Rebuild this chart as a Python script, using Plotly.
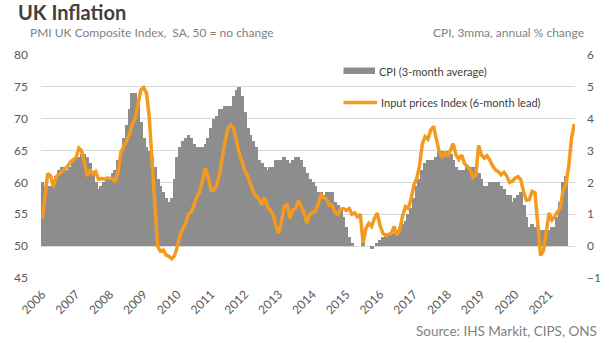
import pandas as pd
import plotly.graph_objects as go

# CPI, 3-month average, annual % change (Jan 2006 - Jul 2021)
cpi_3mma = [
    2.0, 1.9, 1.9, 1.9, 2.0, 2.2, 2.4, 2.5, 2.4, 2.4, 2.5, 2.7,   # 2006
    2.8, 2.8, 2.9, 2.9, 2.8, 2.6, 2.3, 2.0, 1.8, 1.9, 2.0, 2.1,   # 2007
    2.1, 2.3, 2.4, 2.7, 2.9, 3.4, 3.8, 4.3, 4.8, 4.8, 4.6, 3.9,   # 2008
    3.4, 3.1, 3.0, 2.8, 2.5, 2.1, 1.9, 1.7, 1.5, 1.4, 1.5, 2.1,   # 2009
    2.8, 3.1, 3.3, 3.4, 3.5, 3.4, 3.2, 3.1, 3.1, 3.1, 3.2, 3.4,   # 2010
    3.7, 4.0, 4.1, 4.3, 4.3, 4.4, 4.4, 4.4, 4.7, 4.9, 5.0, 4.7,   # 2011
    4.2, 3.7, 3.5, 3.3, 3.1, 2.7, 2.6, 2.5, 2.4, 2.5, 2.5, 2.7,   # 2012
    2.7, 2.7, 2.8, 2.7, 2.6, 2.7, 2.8, 2.8, 2.7, 2.5, 2.3, 2.1,   # 2013
    2.0, 1.9, 1.7, 1.7, 1.6, 1.7, 1.7, 1.7, 1.4, 1.3, 1.2, 0.9,   # 2014
    0.6, 0.3, 0.1, 0.0, 0.0, 0.0, 0.1, 0.0, 0.0, -0.1, 0.0, 0.1,  # 2015
    0.2, 0.3, 0.4, 0.4, 0.4, 0.4, 0.5, 0.6, 0.7, 0.8, 1.0, 1.2,   # 2016
    1.5, 1.9, 2.1, 2.4, 2.6, 2.7, 2.7, 2.7, 2.8, 3.0, 3.0, 3.0,   # 2017
    3.0, 2.9, 2.7, 2.5, 2.4, 2.4, 2.4, 2.5, 2.5, 2.5, 2.4, 2.3,   # 2018
    2.1, 1.9, 1.9, 2.0, 2.0, 2.0, 2.0, 1.9, 1.8, 1.6, 1.6, 1.4,   # 2019
    1.5, 1.6, 1.7, 1.3, 0.9, 0.6, 0.7, 0.6, 0.6, 0.5, 0.5, 0.5,   # 2020
    0.5, 0.6, 0.6, 0.9, 1.4, 2.0, 2.2,                            # 2021
]

# PMI UK Composite Input Prices Index, 6-month lead (Jan 2006 - Oct 2021 on the chart axis)
input_prices = [
    54.3, 58.0, 61.4, 61.0, 59.3, 60.9, 61.3, 61.6, 62.0, 62.5, 63.2, 63.5,   # 2006
    63.9, 65.4, 65.0, 63.2, 61.0, 62.0, 61.3, 61.7, 60.5, 60.6, 60.5, 60.7,   # 2007
    60.7, 60.6, 60.1, 61.8, 64.8, 65.6, 66.5, 67.6, 69.2, 70.0, 72.5, 74.5,   # 2008
    74.9, 74.0, 70.5, 63.5, 55.5, 50.0, 49.2, 49.4, 48.6, 48.4, 48.0, 48.5,   # 2009
    50.0, 51.8, 52.8, 53.6, 55.0, 55.4, 56.5, 57.8, 58.6, 60.5, 62.2, 60.8,   # 2010
    58.7, 58.8, 59.6, 61.3, 64.0, 66.5, 68.5, 69.0, 68.5, 66.5, 64.5, 63.3,   # 2011
    61.8, 60.9, 59.8, 58.5, 57.8, 57.4, 56.5, 57.6, 56.2, 55.5, 55.0, 53.1,   # 2012
    52.0, 54.0, 56.2, 56.6, 54.3, 55.7, 55.9, 57.2, 56.3, 55.2, 53.6, 55.0,   # 2013
    55.3, 55.5, 56.6, 58.0, 57.6, 57.4, 56.4, 56.4, 55.3, 55.0, 55.8, 55.9,   # 2014
    55.6, 55.9, 55.0, 55.2, 54.6, 55.0, 50.5, 52.8, 53.6, 53.1, 54.4, 55.2,   # 2015
    53.2, 52.0, 51.7, 51.8, 52.0, 53.1, 51.7, 52.6, 54.8, 56.2, 55.9, 57.4,   # 2016
    59.6, 60.7, 62.5, 66.0, 67.2, 66.8, 68.2, 68.8, 67.0, 64.8, 63.9, 64.8,   # 2017
    64.0, 65.0, 66.1, 64.3, 63.6, 64.3, 63.0, 62.5, 62.0, 60.8, 61.2, 65.8,   # 2018
    64.3, 63.8, 64.2, 63.5, 62.6, 62.0, 61.7, 61.2, 61.6, 61.0, 60.0, 60.2,   # 2019
    60.7, 60.9, 60.4, 58.5, 57.2, 57.3, 58.6, 58.4, 53.5, 48.5, 49.3, 52.5,   # 2020
    55.2, 54.1, 54.6, 55.4, 55.9, 58.8, 59.6, 62.5, 67.0, 69.2,               # 2021
]

year_labels = [str(y) for y in range(2006, 2022)]

cpi_dates = pd.date_range("2006-01-01", periods=len(cpi_3mma), freq="MS") + pd.Timedelta(days=14)
ip_dates = pd.date_range("2006-01-01", periods=len(input_prices), freq="MS") + pd.Timedelta(days=14)
tick_dates = [f"{y}-01-15" for y in year_labels]

GREY = "#8d8d8d"
ORANGE = "#f39a1f"
FONT = "Lato"

fig = go.Figure()
fig.add_trace(go.Bar(
    x=cpi_dates, y=cpi_3mma, yaxis="y", name="CPI (3-month average)",
    marker=dict(color=GREY, line=dict(width=0)),
    width=42 * 24 * 3600 * 1000, showlegend=False,
))
fig.add_trace(go.Scatter(
    x=ip_dates, y=input_prices, yaxis="y2", mode="lines",
    name="Input prices Index (6-month lead)",
    line=dict(color=ORANGE, width=3.5), showlegend=False,
))

L, R, T, B = 41, 30, 55, 65
W, H = 613, 343
pw, ph = W - L - R, H - T - B


def px(xp):
    return (xp - L) / pw


def py(yp):
    return (H - B - yp) / ph


fig.update_layout(
    width=W, height=H, autosize=False,
    margin=dict(l=L, r=R, t=T, b=B),
    paper_bgcolor="white", plot_bgcolor="white",
    bargap=0,
    font=dict(family=FONT, color="#595959"),
    xaxis=dict(
        type="date", range=["2006-01-01", "2021-10-22"],
        tickvals=tick_dates, ticktext=year_labels, tickangle=-45,
        showgrid=False, zeroline=False, showline=False, ticks="",
        tickfont=dict(size=12, color="#595959"), ticklabelstandoff=6,
    ),
    yaxis=dict(
        side="right", range=[-1, 6], dtick=1, tick0=-1,
        showgrid=True, gridcolor="#d9d9d9", gridwidth=1,
        zeroline=False, showline=False, ticks="",
        tickfont=dict(size=12, color="#595959"), ticklabelstandoff=11,
    ),
    yaxis2=dict(
        overlaying="y", side="left", range=[45, 80], dtick=5, tick0=45,
        showgrid=False, zeroline=False, showline=False, ticks="",
        tickfont=dict(size=12, color="#595959"), ticklabelstandoff=12,
    ),
    shapes=[
        dict(type="rect", xref="paper", yref="paper",
             x0=px(348), x1=px(380), y0=py(74), y1=py(67.5),
             fillcolor=GREY, line=dict(width=0)),
        dict(type="line", xref="paper", yref="paper",
             x0=px(348), x1=px(382), y0=py(102.5), y1=py(102.5),
             line=dict(color=ORANGE, width=3.5)),
    ],
    annotations=[
        dict(text="<b>UK Inflation</b>", xref="paper", yref="paper",
             x=px(16), y=py(12), xanchor="left", yanchor="middle",
             showarrow=False, font=dict(size=20, color="#404040", family=FONT)),
        dict(text="PMI UK Composite Index,  SA, 50 = no change", xref="paper", yref="paper",
             x=px(28), y=py(33), xanchor="left", yanchor="middle",
             showarrow=False, font=dict(size=12, color="#7f7f7f", family=FONT)),
        dict(text="CPI, 3mma, annual % change", xref="paper", yref="paper",
             x=px(594), y=py(33), xanchor="right", yanchor="middle",
             showarrow=False, font=dict(size=12, color="#7f7f7f", family=FONT)),
        dict(text="Source: IHS Markit, CIPS, ONS", xref="paper", yref="paper",
             x=px(607), y=py(331), xanchor="right", yanchor="middle",
             showarrow=False, font=dict(size=13.5, color="#7f7f7f", family=FONT)),
        dict(text="CPI (3-month average)", xref="paper", yref="paper",
             x=px(382), y=py(71), xanchor="left", yanchor="middle",
             showarrow=False, font=dict(size=11, color="#404040", family=FONT)),
        dict(text="Input prices Index (6-month lead)", xref="paper", yref="paper",
             x=px(384), y=py(102.5), xanchor="left", yanchor="middle",
             showarrow=False, font=dict(size=11, color="#404040", family=FONT)),
    ],
)

fig.write_html("out.html", config={"staticPlot": True})
